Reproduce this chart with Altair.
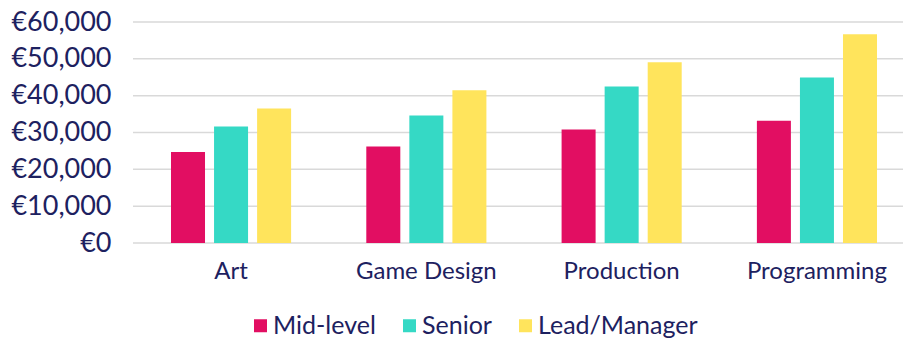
import altair as alt
import pandas as pd

roles = ["Art", "Game Design", "Production", "Programming"]
levels = ["Mid-level", "Senior", "Lead/Manager"]
mid = [24700, 26200, 30800, 33200]
senior = [31600, 34600, 42500, 44900]
lead = [36500, 41500, 49100, 56700]
colors = ["#e20e62", "#35d9c5", "#ffe45c"]
y_ticks = [0, 10000, 20000, 30000, 40000, 50000, 60000]

rows = []
for lvl, vals in zip(levels, [mid, senior, lead]):
    for r, v in zip(roles, vals):
        rows.append({"role": r, "level": lvl, "salary": v})
df = pd.DataFrame(rows)
grid_df = pd.DataFrame({"salary": y_ticks})

FONT = "Lato"
NAVY = "#1d2160"
W, H = 770, 221

yscale = alt.Scale(domain=[0, 60000], nice=False)
yaxis = alt.Axis(values=y_ticks, ticks=False, domain=False, grid=False,
                 labelOverlap=False,
                 labelExpr="'€' + format(datum.value, ',')",
                 labelFontSize=27, labelFont=FONT, labelColor=NAVY,
                 labelPadding=22)

grid = alt.Chart(grid_df).mark_rule(color="#d9d9d9", strokeWidth=1.5).encode(
    y=alt.Y("salary:Q", scale=yscale, title=None, axis=yaxis),
    x=alt.value(0),
    x2=alt.value(W),
)

bars = alt.Chart(df).mark_bar().encode(
    x=alt.X("role:N", sort=roles, title=None,
            scale=alt.Scale(range=[38, 744], paddingInner=0.385, paddingOuter=0),
            axis=alt.Axis(labelAngle=0, ticks=False, domain=False, grid=False,
                          labelFontSize=24, labelFont=FONT, labelColor=NAVY,
                          labelPadding=16)),
    xOffset=alt.XOffset("level:N", sort=levels,
                        scale=alt.Scale(paddingInner=0.21, paddingOuter=0)),
    y=alt.Y("salary:Q", title=None, scale=yscale, axis=yaxis),
    color=alt.Color("level:N", sort=levels, title=None,
                    scale=alt.Scale(domain=levels, range=colors),
                    legend=alt.Legend(orient="none", direction="horizontal",
                                      legendX=115, legendY=291,
                                      symbolType="square", symbolSize=169,
                                      symbolStrokeWidth=0, symbolOpacity=1,
                                      labelFontSize=25, labelFont=FONT,
                                      labelColor=NAVY, labelOffset=0,
                                      columnPadding=21, padding=0)),
)

chart = alt.layer(grid, bars).properties(
    width=W, height=H,
    autosize=alt.AutoSizeParams(type="none"),
    padding={"left": 125, "top": 14, "right": 0, "bottom": 97},
).configure_view(stroke=None)

chart.save("out.html", embed_options={"renderer": "svg", "actions": False})
